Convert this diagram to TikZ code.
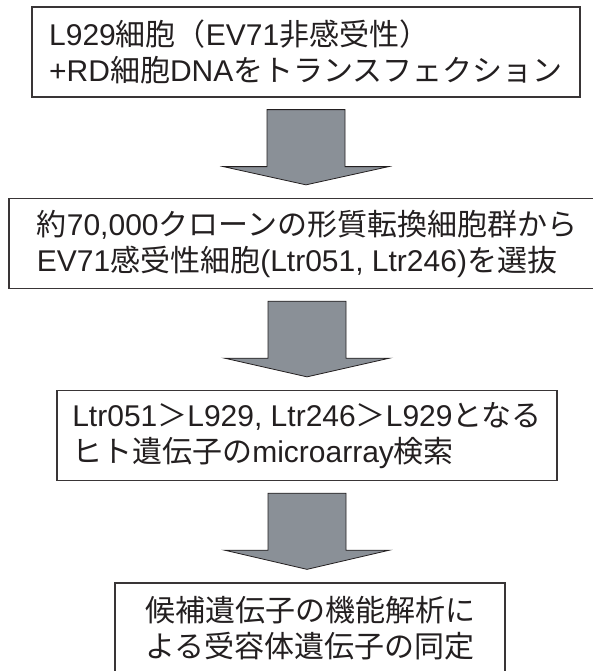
\documentclass[tikz,border=0pt]{standalone}
\usepackage{fontspec}
\setmainfont{Liberation Sans}
\newfontfamily\jp{Noto Sans CJK JP}
\usetikzlibrary{calc}
\newcommand{\J}[1]{{\jp #1}}
\definecolor{arrowgray}{RGB}{138,144,151}
\definecolor{inkc}{RGB}{35,31,32}
\begin{document}
\begin{tikzpicture}[x=1pt,y=-1pt,
  box/.style={draw=inkc!90, line width=1.3pt, inner sep=0pt, align=left,
    text=inkc, font=\fontsize{30}{36}\selectfont, minimum height=90pt},
  blockarrow/.style={fill=arrowgray, draw=inkc, line width=0.8pt, line join=miter}]
\useasboundingbox (0,0) rectangle (593,671);
\clip (0,0) rectangle (593,671);
\node[box, minimum width=548pt] (b1) at (306,52)
  {L929\J{細胞（}EV71\J{非感受性）}\\+RD\J{細胞}DNA\J{をトランスフェクション}};
\node[box, minimum width=596pt] (b2) at (307,243.5)
  {\J{約}70,000\J{クローンの形質転換細胞群から}\\EV71\J{感受性細胞}(Ltr051, Ltr246)\J{を選抜}};
\node[box, minimum width=500pt] (b3) at (307,435.5)
  {Ltr051\J{＞}L929, Ltr246\J{＞}L929\J{となる}\\\J{ヒト遺伝子の}microarray\J{検索}};
\node[box, minimum width=390pt] (b4) at (310,628)
  {\J{候補遺伝子の機能解析に}\\\J{よる受容体遺伝子の同定}};
\foreach \a/\b in {b1/b2,b2/b3,b3/b4}{
  \coordinate (tip-\a) at ($(\b.north -| \a.south)+(0,-13)$);
  \draw[blockarrow] ($(\a.south)+(-39,12)$) -- ($(\a.south)+(39,12)$)
    -- ($(\a.south)+(39,69)$) -- ($(\a.south)+(82.5,69)$) -- (tip-\a)
    -- ($(\a.south)+(-82.5,69)$) -- ($(\a.south)+(-39,69)$) -- cycle;
}
\end{tikzpicture}
\end{document}
